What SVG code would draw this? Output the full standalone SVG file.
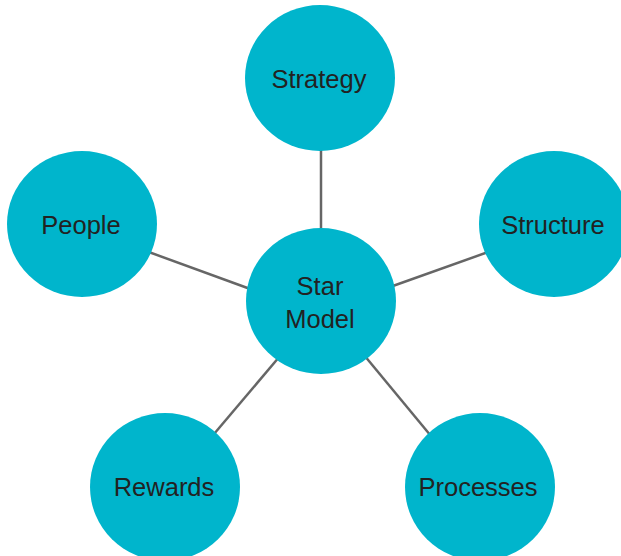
<svg xmlns="http://www.w3.org/2000/svg" width="621" height="556" viewBox="0 0 621 556">
<style>
.node{fill:#00B5CC;}
.lbl{font-family:"Liberation Sans",Arial,sans-serif;font-size:25.5px;fill:#222;text-anchor:middle;}
.edge{stroke:#666;stroke-width:2.5;fill:none;}
</style>
<rect width="621" height="556" fill="#fff"/>
<g id="connectors">
<line class="edge" x1="321" y1="232" x2="321" y2="145"/>
<line class="edge" x1="146" y1="251" x2="253" y2="290"/>
<line class="edge" x1="390" y1="287" x2="491" y2="251"/>
<line class="edge" x1="280" y1="356" x2="214" y2="434"/>
<line class="edge" x1="364" y1="355" x2="431" y2="436"/>
</g>
<g id="strategy"><ellipse class="node" cx="320" cy="78" rx="75" ry="73"/><text class="lbl" x="319" y="88">Strategy</text></g>
<g id="people"><ellipse class="node" cx="82" cy="224" rx="75" ry="73"/><text class="lbl" x="81" y="234">People</text></g>
<g id="structure"><ellipse class="node" cx="554" cy="224" rx="75" ry="73"/><text class="lbl" x="553" y="234">Structure</text></g>
<g id="star"><ellipse class="node" cx="321" cy="301" rx="75" ry="73"/><text class="lbl" x="320" y="295">Star</text><text class="lbl" x="320" y="328">Model</text></g>
<g id="rewards"><ellipse class="node" cx="165" cy="487" rx="75" ry="74"/><text class="lbl" x="164" y="496">Rewards</text></g>
<g id="processes"><ellipse class="node" cx="480" cy="487" rx="75" ry="74"/><text class="lbl" x="478" y="496">Processes</text></g>
</svg>
